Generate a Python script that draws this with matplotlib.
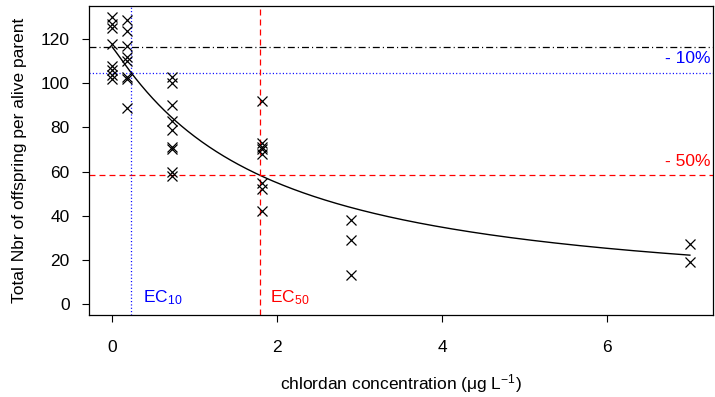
import numpy as np
import matplotlib
matplotlib.use("Agg")
import matplotlib.pyplot as plt

plt.rcParams['font.family'] = ['Liberation Sans', 'DejaVu Sans']
plt.rcParams['lines.scale_dashes'] = False
plt.rcParams['mathtext.fontset'] = 'custom'
plt.rcParams['mathtext.rm'] = 'Liberation Sans'
plt.rcParams['mathtext.it'] = 'Liberation Sans'

# observed data (concentration, total offspring)
conc_0 = [0, 0, 0, 0, 0, 0, 0, 0]
y_0 = [130, 127, 125, 118, 108, 106, 104, 102]
conc_1 = [0.18] * 8
y_1 = [129, 124, 117, 112, 110, 103, 102, 89]
conc_2 = [0.73] * 9
y_2 = [103, 100, 90, 83, 79, 71, 70, 60, 58]
conc_3 = [1.82] * 8
y_3 = [92, 73, 71, 70, 68, 55, 52, 42]
conc_4 = [2.9] * 3
y_4 = [38, 29, 13]
conc_5 = [7.0] * 2
y_5 = [27, 19]

# fitted log-logistic parameters
top = 116.6
ec50 = 1.79
slope = 1.07
ec10 = 0.23
level10 = 104.9
level50 = 58.3

xticks = [0, 2, 4, 6]
yticks = [0, 20, 40, 60, 80, 100, 120]

x_all = conc_0 + conc_1 + conc_2 + conc_3 + conc_4 + conc_5
y_all = y_0 + y_1 + y_2 + y_3 + y_4 + y_5

fig = plt.figure(figsize=(7.15, 3.97), dpi=100)
ax = fig.add_axes([89/715, 1 - 315/397, (713-89)/715, (315-6)/397])

ax.plot(x_all, y_all, 'x', color='black', markersize=7.5, markeredgewidth=0.9, zorder=3)

xs = np.linspace(0, max(x_all), 400)
ax.plot(xs, top / (1 + (xs / ec50) ** slope), color='black', lw=1)

ax.axhline(top, color='black', lw=0.9, linestyle=(0, (5, 2.2, 0.8, 2.2)))
ax.axhline(level10, color='blue', lw=0.9, linestyle=(0, (0.8, 1.6)))
ax.axhline(level50, color='red', lw=0.9, linestyle=(0, (4.3, 2.9)))
ax.axvline(ec10, color='blue', lw=0.9, linestyle=(0, (0.8, 1.6)))
ax.axvline(ec50, color='red', lw=0.9, linestyle=(0, (4.3, 2.9)))

ax.set_xlim(-0.28, 7.28)
ax.set_ylim(-5.2, 135.2)
ax.set_xticks(xticks)
ax.set_yticks(yticks)
ax.tick_params(direction='out', length=5, width=0.8, labelsize=12.5)
ax.tick_params(axis='x', pad=13)
ax.tick_params(axis='y', pad=9)
for s in ax.spines.values():
    s.set_linewidth(0.9)

ax.text(7.25, level10 + 3, '- 10%', color='blue', ha='right', va='bottom', fontsize=12.5)
ax.text(7.25, level50 + 3, '- 50%', color='red', ha='right', va='bottom', fontsize=12.5)
ax.text(ec10 + 0.15, -1.5, r'EC$_{10}$', color='blue', ha='left', va='bottom', fontsize=12.5)
ax.text(ec50 + 0.12, -1.5, r'EC$_{50}$', color='red', ha='left', va='bottom', fontsize=12.5)

ax.set_ylabel('Total Nbr of offspring per alive parent', fontsize=12.5, labelpad=10)
ax.set_xlabel(r'chlordan concentration ($\mu$g L$^{-1}$)', fontsize=12.5, labelpad=12)

fig.savefig('out.png', dpi=100)
